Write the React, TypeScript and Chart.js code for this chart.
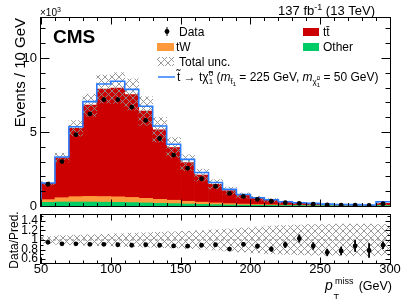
import React, { useEffect, useRef } from "react";
import { Chart, registerables } from "chart.js";
Chart.register(...registerables);

const FONT = "'Liberation Sans', Arial, Helvetica, sans-serif";

// 10 GeV bins, lower edges (GeV)
const binLow = [50, 60, 70, 80, 90, 100, 110, 120, 130, 140, 150, 160, 170, 180, 190, 200, 210, 220, 230, 240, 250, 260, 270, 280, 290];
const BIN_WIDTH = 10;

// events per bin (x10^3)
const dataEvents = [1.47, 3.0, 4.82, 6.22, 7.19, 7.19, 6.68, 5.78, 4.56, 3.44, 2.55, 1.84, 1.32, 0.85, 0.65, 0.45, 0.32, 0.22, 0.18, 0.13, 0.08, 0.06, 0.06, 0.04, 0.16];
const otherEvents = [0.25, 0.27, 0.27, 0.27, 0.26, 0.25, 0.23, 0.21, 0.18, 0.16, 0.13, 0.11, 0.09, 0.07, 0.06, 0.05, 0.04, 0.03, 0.03, 0.02, 0.02, 0.015, 0.01, 0.01, 0.03];
const tWEvents = [0.18, 0.29, 0.36, 0.38, 0.38, 0.37, 0.35, 0.31, 0.27, 0.23, 0.19, 0.15, 0.12, 0.09, 0.07, 0.05, 0.04, 0.03, 0.02, 0.02, 0.015, 0.01, 0.01, 0.01, 0.02];
const ttbarEvents = [1.1, 2.7, 4.62, 6.16, 7.26, 7.35, 6.95, 5.9, 4.7, 3.56, 2.61, 1.83, 1.26, 0.88, 0.58, 0.42, 0.31, 0.19, 0.125, 0.11, 0.075, 0.055, 0.05, 0.03, 0.13];
const signalEvents = [0.02, 0.05, 0.1, 0.24, 0.34, 0.46, 0.35, 0.32, 0.25, 0.22, 0.22, 0.17, 0.12, 0.08, 0.07, 0.04, 0.03, 0.04, 0.045, 0.03, 0.02, 0.02, 0.02, 0.02, 0.11];
// relative total uncertainty of the prediction
const totalUncRel = [0.07, 0.09, 0.1, 0.11, 0.12, 0.13, 0.14, 0.15, 0.16, 0.17, 0.18, 0.19, 0.21, 0.23, 0.25, 0.27, 0.29, 0.3, 0.31, 0.32, 0.32, 0.33, 0.33, 0.33, 0.32];
// Data / Pred.
const ratioValues = [0.95, 0.92, 0.92, 0.91, 0.91, 0.9, 0.89, 0.9, 0.89, 0.875, 0.87, 0.89, 0.9, 0.81, 0.91, 0.87, 0.81, 0.9, 1.03, 0.875, 0.74, 0.77, 0.875, 0.78, 0.89];
const ratioErrors = [0.02, 0.015, 0.015, 0.015, 0.015, 0.015, 0.015, 0.015, 0.02, 0.02, 0.02, 0.025, 0.03, 0.035, 0.04, 0.045, 0.05, 0.06, 0.077, 0.07, 0.07, 0.083, 0.115, 0.146, 0.07];

const xTickLabels = [50, 100, 150, 200, 250, 300];
const yMainTickLabels = [0, 5, 10];
const yRatioTickLabels = [0.6, 0.8, 1, 1.2, 1.4];

const RED = "#cc0000";
const ORANGE = "#ff9a3c";
const GREEN = "#00cc66";
const BLUE = "#2a7cff";

function makeHatch(ctx: CanvasRenderingContext2D) {
  const c = document.createElement("canvas");
  c.width = 7;
  c.height = 7;
  const g = c.getContext("2d")!;
  g.strokeStyle = "#8f8f8f";
  g.lineWidth = 0.9;
  g.beginPath();
  g.moveTo(-1, -1);
  g.lineTo(8, 8);
  g.moveTo(8, -1);
  g.lineTo(-1, 8);
  g.stroke();
  return ctx.createPattern(c, "repeat")!;
}

type Seg = { t: string; s: number; dy?: number; it?: boolean; b?: boolean; stack?: { t: string; s: number; dy: number } };

function rich(ctx: CanvasRenderingContext2D, x: number, y: number, segs: Seg[], align: "left" | "right" = "left", draw = true): number {
  let cx = x;
  if (align === "right") {
    const w = rich(ctx, 0, 0, segs, "left", false);
    cx = x - w;
  }
  const start = cx;
  ctx.textAlign = "left";
  ctx.textBaseline = "alphabetic";
  for (const sg of segs) {
    ctx.font = `${sg.it ? "italic " : ""}${sg.b ? "bold " : ""}${sg.s}px ${FONT}`;
    const w = ctx.measureText(sg.t).width;
    if (draw) ctx.fillText(sg.t, cx, y + (sg.dy || 0));
    let adv = w;
    if (sg.stack) {
      ctx.font = `${sg.stack.s}px ${FONT}`;
      const w2 = ctx.measureText(sg.stack.t).width;
      if (draw) ctx.fillText(sg.stack.t, cx, y + sg.stack.dy);
      adv = Math.max(w, w2);
    }
    cx += adv;
  }
  return cx - start;
}

function drawFrame(chart: any, xs: any, ys: any, o: { xMaj: number[]; xMin: number[]; yMaj: number[]; yMin: number[]; xML: number; xmL: number; yML: number; ymL: number }) {
  const { ctx, chartArea: a } = chart;
  const L = a.left - 0.5, R = a.right + 0.5, T = a.top - 0.5, B = a.bottom + 0.5;
  ctx.save();
  ctx.strokeStyle = "#000";
  ctx.lineWidth = 1;
  ctx.beginPath();
  const xt = (vals: number[], len: number) => {
    for (const v of vals) {
      const px = Math.round(xs.getPixelForValue(v)) + 0.5;
      ctx.moveTo(px, B);
      ctx.lineTo(px, B - len);
      ctx.moveTo(px, T);
      ctx.lineTo(px, T + len);
    }
  };
  const yt = (vals: number[], len: number) => {
    for (const v of vals) {
      const py = Math.round(ys.getPixelForValue(v)) + 0.5;
      ctx.moveTo(L, py);
      ctx.lineTo(L + len, py);
      ctx.moveTo(R, py);
      ctx.lineTo(R - len, py);
    }
  };
  xt(o.xMaj, o.xML);
  xt(o.xMin, o.xmL);
  yt(o.yMaj, o.yML);
  yt(o.yMin, o.ymL);
  ctx.stroke();
  ctx.strokeRect(L, T, R - L, B - T);
  ctx.restore();
}

export default function App() {
  const mainRef = useRef<HTMLCanvasElement>(null);
  const ratioRef = useRef<HTMLCanvasElement>(null);

  useEffect(() => {
    const mc = mainRef.current!;
    const rc = ratioRef.current!;
    const hatchMain = makeHatch(mc.getContext("2d")!);
    const hatchRatio = makeHatch(rc.getContext("2d")!);

    const labels = binLow.map(String);
    const pred = binLow.map((_, i) => ttbarEvents[i] + tWEvents[i] + otherEvents[i]);
    const cumTW = binLow.map((_, i) => tWEvents[i] + otherEvents[i]);
    const withSignal = binLow.map((_, i) => pred[i] + signalEvents[i]);
    const mainBand = binLow.map((_, i) => [pred[i] * (1 - totalUncRel[i]), pred[i] * (1 + totalUncRel[i])]);
    const dataErr = binLow.map((_, i) => ratioErrors[i] * pred[i]);

    const xMinor: number[] = [];
    for (let v = 60; v < 300; v += 10) if (v % 50 !== 0) xMinor.push(v);
    const yMinorMain: number[] = [];
    for (let v = 1; v <= 12; v++) if (v % 5 !== 0) yMinorMain.push(v);
    const yMinorRatio: number[] = [];
    for (let v = 0.6; v <= 1.51; v += 0.1) yMinorRatio.push(Math.round(v * 10) / 10);

    const mainDecor = {
      id: "mainDecor",
      afterDraw(chart: any) {
        const ctx: CanvasRenderingContext2D = chart.ctx;
        const xs = chart.scales.xl, ys = chart.scales.y;
        drawFrame(chart, xs, ys, { xMaj: xTickLabels, xMin: xMinor, yMaj: yMainTickLabels, yMin: yMinorMain, xML: 7, xmL: 3.5, yML: 9, ymL: 5 });
        ctx.save();
        ctx.fillStyle = "#000";
        // y tick labels
        ctx.font = `13px ${FONT}`;
        ctx.textAlign = "right";
        ctx.textBaseline = "middle";
        for (const v of yMainTickLabels) ctx.fillText(String(v), 37, ys.getPixelForValue(v));
        // x10^3
        rich(ctx, 40, 16, [{ t: "\u00d710", s: 10 }, { t: "3", s: 7, dy: -4 }]);
        // y title
        ctx.save();
        ctx.translate(24.5, 18);
        ctx.rotate(-Math.PI / 2);
        ctx.font = `15px ${FONT}`;
        ctx.textAlign = "right";
        ctx.textBaseline = "alphabetic";
        ctx.fillText("Events / 10 GeV", 0, 0);
        ctx.restore();
        // CMS
        ctx.font = `bold 19px ${FONT}`;
        ctx.textAlign = "left";
        ctx.textBaseline = "alphabetic";
        ctx.fillText("CMS", 53, 43);
        // lumi
        rich(ctx, 375, 14.5, [{ t: "137 fb", s: 13 }, { t: "-1", s: 9, dy: -5 }, { t: " (13 TeV)", s: 13 }], "right");

        // legend
        ctx.fillStyle = "#000";
        ctx.beginPath();
        ctx.arc(167, 31.5, 2.4, 0, Math.PI * 2);
        ctx.fill();
        ctx.fillRect(166.5, 27, 1, 9);
        rich(ctx, 179, 36, [{ t: "Data", s: 12 }]);
        ctx.fillStyle = RED;
        ctx.fillRect(303, 28, 16, 8);
        ctx.fillStyle = "#000";
        rich(ctx, 323, 36, [{ t: "tt\u0304", s: 12 }]);
        ctx.fillStyle = ORANGE;
        ctx.fillRect(157, 43, 17, 8);
        ctx.fillStyle = "#000";
        rich(ctx, 176, 51, [{ t: "tW", s: 12 }]);
        ctx.fillStyle = GREEN;
        ctx.fillRect(303, 43, 16, 8);
        ctx.fillStyle = "#000";
        rich(ctx, 323, 51, [{ t: "Other", s: 12 }]);
        ctx.fillStyle = hatchMain;
        ctx.fillRect(157, 57, 17, 9);
        ctx.fillStyle = "#000";
        rich(ctx, 179, 66, [{ t: "Total unc.", s: 12 }]);
        ctx.strokeStyle = BLUE;
        ctx.lineWidth = 1.5;
        ctx.beginPath();
        ctx.moveTo(158, 77);
        ctx.lineTo(175, 77);
        ctx.stroke();
        ctx.fillStyle = "#000";
        rich(ctx, 177, 81, [
          { t: "t\u0303", s: 12 },
          { t: " \u2192 t", s: 12 },
          { t: "\u03c7\u0303", s: 12 },
          { t: "0", s: 8, dy: -5, stack: { t: "1", s: 8, dy: 3 } },
          { t: " (", s: 12 },
          { t: "m", s: 12, it: true },
          { t: "t\u0303", s: 8, dy: 3 },
          { t: "1", s: 6, dy: 5 },
          { t: " = 225 GeV, ", s: 12 },
          { t: "m", s: 12, it: true },
          { t: "\u03c7\u0303", s: 8, dy: 3 },
          { t: "0", s: 6, dy: -1, stack: { t: "1", s: 6, dy: 6 } },
          { t: " = 50 GeV)", s: 12 },
        ]);
        ctx.restore();
      },
    };

    const ratioDecor = {
      id: "ratioDecor",
      afterDraw(chart: any) {
        const ctx: CanvasRenderingContext2D = chart.ctx;
        const xs = chart.scales.xl, ys = chart.scales.y;
        drawFrame(chart, xs, ys, { xMaj: xTickLabels, xMin: xMinor, yMaj: yRatioTickLabels, yMin: yMinorRatio, xML: 6, xmL: 3, yML: 5, ymL: 3 });
        ctx.save();
        ctx.fillStyle = "#000";
        ctx.font = `12px ${FONT}`;
        ctx.textAlign = "right";
        ctx.textBaseline = "middle";
        for (const v of yRatioTickLabels) ctx.fillText(String(v), 38, ys.getPixelForValue(v));
        ctx.font = `13px ${FONT}`;
        ctx.textAlign = "center";
        ctx.textBaseline = "alphabetic";
        for (const v of xTickLabels) ctx.fillText(String(v), xs.getPixelForValue(v), 63);
        // y title
        ctx.save();
        ctx.translate(17.5, 30);
        ctx.rotate(-Math.PI / 2);
        ctx.font = `12px ${FONT}`;
        ctx.textAlign = "center";
        ctx.fillText("Data/Pred.", 0, 0);
        ctx.restore();
        // x title
        ctx.textAlign = "right";
        ctx.font = `12.5px ${FONT}`;
        ctx.fillText("(GeV)", 392, 80);
        ctx.textAlign = "left";
        ctx.font = `italic 14px ${FONT}`;
        ctx.fillText("p", 325, 80);
        ctx.font = `9px ${FONT}`;
        ctx.fillText("miss", 335, 74);
        ctx.fillText("T", 333.5, 89.5);
        ctx.restore();
      },
    };

    const common: any = {
      animation: false,
      responsive: false,
      maintainAspectRatio: false,
      events: [],
      plugins: { legend: { display: false }, tooltip: { enabled: false } },
      datasets: { bar: { grouped: false, categoryPercentage: 1, barPercentage: 1, borderWidth: 0 } },
    };

    const main = new Chart(mc, {
      type: "bar",
      data: {
        labels,
        datasets: [
          { type: "line", label: "Data", xAxisID: "xl", data: binLow.map((b, i) => ({ x: b + BIN_WIDTH / 2, y: dataEvents[i] })), showLine: false, pointRadius: 2.4, pointBackgroundColor: "#000", pointBorderWidth: 0, order: 0 } as any,
          { type: "bar", label: "DataErr", xAxisID: "x", data: dataEvents.map((d, i) => [d - dataErr[i], d + dataErr[i]]), backgroundColor: "#000", barThickness: 1.2, order: 1 } as any,
          { type: "line", label: "Signal", xAxisID: "xl", data: [{ x: binLow[0], y: 0 }, ...binLow.map((b, i) => ({ x: b + BIN_WIDTH, y: withSignal[i] }))], stepped: "after", borderColor: BLUE, borderWidth: 1.6, pointRadius: 0, fill: false, order: 2 } as any,
          { type: "bar", label: "Total unc.", xAxisID: "x", data: mainBand, backgroundColor: hatchMain, order: 3 } as any,
          { type: "bar", label: "Other", xAxisID: "x", data: otherEvents, backgroundColor: GREEN, order: 4 } as any,
          { type: "bar", label: "tW", xAxisID: "x", data: cumTW, backgroundColor: ORANGE, order: 5 } as any,
          { type: "bar", label: "ttbar", xAxisID: "x", data: pred, backgroundColor: RED, order: 6 } as any,
        ],
      },
      options: {
        ...common,
        layout: { padding: { left: 41, right: 17, top: 18, bottom: 3 } },
        scales: {
          x: { type: "category", display: false, offset: true },
          xl: { type: "linear", display: false, min: 50, max: 300, offset: false, grid: { offset: false } },
          y: { type: "linear", display: false, min: 0, max: 12.7 },
        },
      },
      plugins: [mainDecor],
    } as any);

    const ratio = new Chart(rc, {
      type: "bar",
      data: {
        labels,
        datasets: [
          { type: "line", label: "Ratio", xAxisID: "xl", data: binLow.map((b, i) => ({ x: b + BIN_WIDTH / 2, y: ratioValues[i] })), showLine: false, pointRadius: 2.4, pointBackgroundColor: "#000", pointBorderWidth: 0, order: 0 } as any,
          { type: "bar", label: "RatioErr", xAxisID: "x", data: ratioValues.map((r, i) => [r - ratioErrors[i], r + ratioErrors[i]]), backgroundColor: "#000", barThickness: 1.2, order: 1 } as any,
          { type: "line", label: "Unity", xAxisID: "xl", data: [{ x: 50, y: 1 }, { x: 300, y: 1 }], borderColor: "#8a8a8a", borderDash: [3, 3], borderWidth: 1, pointRadius: 0, fill: false, order: 2 } as any,
          { type: "bar", label: "Unc", xAxisID: "x", data: totalUncRel.map((u) => [1 - u, 1 + u]), backgroundColor: hatchRatio, order: 3 } as any,
        ],
      },
      options: {
        ...common,
        layout: { padding: { left: 41, right: 17, top: 5, bottom: 36 } },
        scales: {
          x: { type: "category", display: false, offset: true },
          xl: { type: "linear", display: false, min: 50, max: 300, offset: false, grid: { offset: false } },
          y: { type: "linear", display: false, min: 0.52, max: 1.52 },
        },
      },
      plugins: [ratioDecor],
    } as any);

    return () => {
      main.destroy();
      ratio.destroy();
    };
  }, []);

  return (
    <div style={{ position: "fixed", left: 0, top: 0, width: 407, height: 299, background: "#fff" }}>
      <canvas ref={mainRef} width={407} height={210} style={{ position: "absolute", left: 0, top: 0, width: 407, height: 210 }} />
      <canvas ref={ratioRef} width={407} height={89} style={{ position: "absolute", left: 0, top: 210, width: 407, height: 89 }} />
    </div>
  );
}
